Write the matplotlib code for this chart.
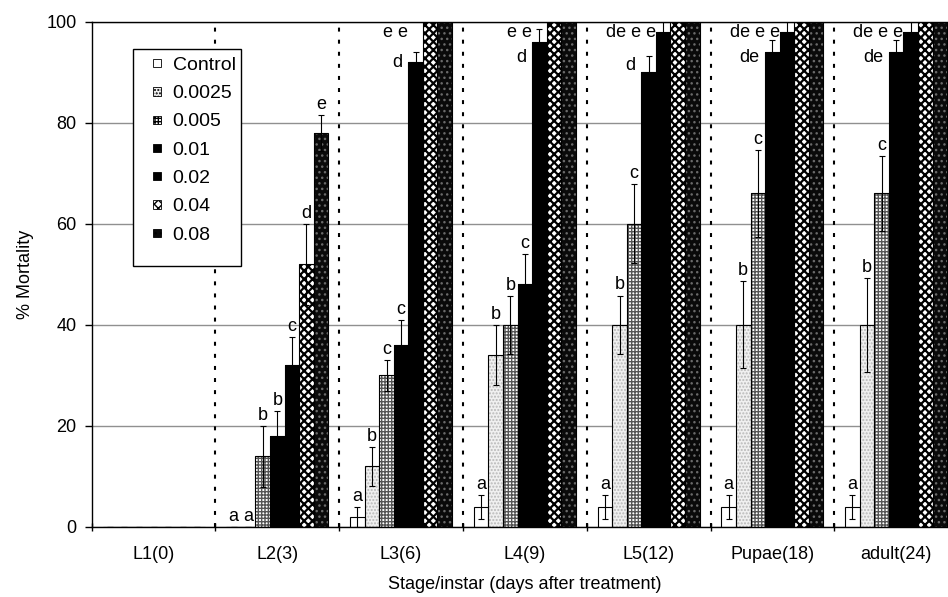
import matplotlib
matplotlib.use('Agg')
import matplotlib.pyplot as plt
import numpy as np
from matplotlib.patches import Rectangle, Patch
from matplotlib.legend_handler import HandlerPatch

plt.rcParams['font.family'] = ['Liberation Sans', 'DejaVu Sans']

# données
stages = ['L1(0)', 'L2(3)', 'L3(6)', 'L4(9)', 'L5(12)', 'Pupae(18)', 'adult(24)']
doses = ['Control', '0.0025', '0.005', '0.01', '0.02', '0.04', '0.08']

mort_ctrl = [0, 0, 2, 4, 4, 4, 4]
mort_0025 = [0, 0, 12, 34, 40, 40, 40]
mort_005 = [0, 14, 30, 40, 60, 66, 66]
mort_01 = [0, 18, 36, 48, 90, 94, 94]
mort_02 = [0, 32, 92, 96, 98, 98, 98]
mort_04 = [0, 52, 100, 100, 100, 100, 100]
mort_08 = [0, 78, 100, 100, 100, 100, 100]

err_ctrl = [0, 0, 2, 2.4, 2.4, 2.4, 2.4]
err_0025 = [0, 0, 3.8, 6, 5.8, 8.6, 9.3]
err_005 = [0, 6, 3, 5.7, 7.8, 8.6, 7.4]
err_01 = [0, 5, 5, 6, 3.3, 2.3, 2.3]
err_02 = [0, 5.6, 2, 2.5, 2.5, 2.5, 2.5]
err_04 = [0, 8, 0, 0, 0, 0, 0]
err_08 = [0, 3.5, 0, 0, 0, 0, 0]

sig_ctrl = ['', 'a', 'a', 'a', 'a', 'a', 'a']
sig_0025 = ['', 'a', 'b', 'b', 'b', 'b', 'b']
sig_005 = ['', 'b', 'c', 'b', 'c', 'c', 'c']
sig_01 = ['', 'b', 'c', 'c', 'd', 'de', 'de']
sig_02 = ['', 'c', 'd', 'd', 'de', 'de', 'de']
sig_04 = ['', 'd', 'e', 'e', 'e', 'e', 'e']
sig_08 = ['', 'e', 'e', 'e', 'e', 'e', 'e']

mort = [mort_ctrl, mort_0025, mort_005, mort_01, mort_02, mort_04, mort_08]
errs = [err_ctrl, err_0025, err_005, err_01, err_02, err_04, err_08]
sigs = [sig_ctrl, sig_0025, sig_005, sig_01, sig_02, sig_04, sig_08]

# (fond, motif, couleur du motif)
styles = [
    ('white', None, 'white'),
    ('#f0f0f0', '.....', '#b8b8b8'),
    ('white', '+++++', '#555555'),
    ('black', None, 'black'),
    ('black', None, 'black'),
    ('white', 'xxxx', 'black'),
    ('#0a0a0a', '...', '#6a6a6a'),
]

fig = plt.figure(figsize=(9.48, 5.97), dpi=100)
ax = fig.add_axes([0.0967, 0.1173, 0.9139, 0.8464])

x = np.arange(len(stages))
w = 1 / 8.5
fs = 13

ax.yaxis.grid(True, color='#909090', linewidth=1)
ax.set_axisbelow(True)
for b in x[:-1] + 0.5:
    ax.axvline(b, color='black', linestyle=(0, (1.9, 3.9)), linewidth=1.5, zorder=1)

handles = []
for j in range(len(doses)):
    face, hatch, hcol = styles[j]
    pos = x + (j - 3) * w
    lw_hatch = 1.6 if hatch == 'xxxx' else 1.0
    with plt.rc_context({'hatch.linewidth': lw_hatch}):
        ax.bar(pos, mort[j], w, color=face, edgecolor=hcol, linewidth=0,
               hatch=hatch, zorder=2)
        handles.append(Patch(facecolor=face, edgecolor=hcol, hatch=hatch,
                             linewidth=0, label=doses[j]))
    ax.bar(pos, mort[j], w, fill=False, edgecolor='black', linewidth=0.8, zorder=3)
    ax.errorbar(pos, mort[j], yerr=errs[j], fmt='none', ecolor='black',
                elinewidth=0.8, capsize=2.5, capthick=0.8, zorder=4)

# lettres de significativité
for i in x:
    top_letters = []
    for j in range(len(doses)):
        s = sigs[j][i]
        if not s:
            continue
        v = mort[j][i]
        t = v + errs[j][i]
        px = i + (j - 3) * w
        if j >= 4 and v >= 97:
            top_letters.append(s)
        elif t > 90:
            ax.text(px - 0.9 * w, min(t - 2, 93), s, ha='right', va='center',
                    fontsize=fs, zorder=5)
        else:
            ax.annotate(s, (px, t), xytext=(0, 1.5), textcoords='offset points',
                        ha='center', va='bottom', fontsize=fs, zorder=5)
    if top_letters:
        ax.text(i + 0.5 * w, 97.8, ' '.join(top_letters), ha='right', va='center',
                fontsize=fs, zorder=5)

ax.set_xlim(-0.5, len(stages) - 0.5)
ax.set_ylim(0, 100)
ax.set_yticks(range(0, 101, 20))
ax.set_xticks(x)
ax.set_xticklabels(stages)
ax.set_xticks(np.arange(-0.5, len(stages), 1), minor=True)
ax.tick_params(axis='x', which='major', length=0, pad=14, labelsize=fs)
ax.tick_params(axis='x', which='minor', length=6, width=1, direction='inout')
ax.tick_params(axis='y', length=5, width=1, pad=6, labelsize=fs)
for side in ['left', 'bottom', 'top']:
    ax.spines[side].set_linewidth(1)
ax.spines['right'].set_visible(False)

ax.set_xlabel('Stage/instar (days after treatment)', fontsize=fs, labelpad=9)
ax.set_ylabel('% Mortality', fontsize=fs, labelpad=9)


def square(legend, orig_handle, xdescent, ydescent, width, height, fontsize):
    s = 6
    return Rectangle((-xdescent + width - s, -ydescent + (height - s) / 2), s, s)


# cadre de légende à la Excel (plus de marge en bas)
ax.add_patch(Rectangle((0.0473, 0.5165), 0.125, 0.4289, transform=ax.transAxes,
                       facecolor='white', edgecolor='black', linewidth=1, zorder=6))
leg = ax.legend(handles=handles, loc='upper left', bbox_to_anchor=(0.0473, 0.945),
                borderaxespad=0, fontsize=14, frameon=False,
                handlelength=1.1, handletextpad=0.6, labelspacing=0.55, borderpad=0.35,
                handler_map={Patch: HandlerPatch(patch_func=square)})
leg.set_zorder(7)
for p in leg.get_patches():
    p.set_edgecolor('black')
    p.set_linewidth(0.6)

fig.savefig('out.png', dpi=100)
